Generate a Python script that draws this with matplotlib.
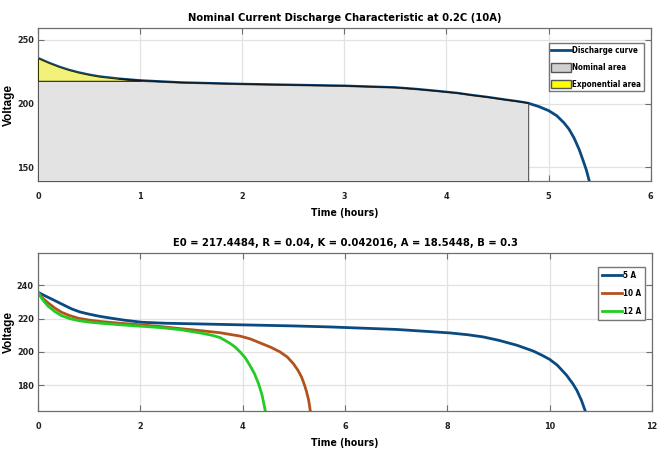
import numpy as np
import matplotlib
matplotlib.use("Agg")
import matplotlib.pyplot as plt
from matplotlib.patches import Patch
from matplotlib.lines import Line2D

# nominal discharge at 10 A
t_top = [0, 0.1, 0.2, 0.3, 0.4, 0.5, 0.6, 0.8, 1.0, 1.4, 2.0, 2.5, 3.0, 3.5,
         3.7, 3.9, 4.1, 4.25, 4.4, 4.58, 4.7, 4.8, 4.9, 5.0, 5.08, 5.15, 5.2,
         5.25, 5.3, 5.34, 5.37, 5.4]
v_top = [235.5, 232.0, 228.9, 226.3, 224.2, 222.5, 221.1, 219.3, 218.0, 216.4,
         215.2, 214.5, 213.8, 212.5, 211.3, 209.8, 208.2, 206.5, 205.0, 202.9,
         201.6, 200.3, 197.8, 194.5, 190.5, 185.0, 180.0, 173.0, 164.0, 155.0,
         148.0, 139.0]
t_nom = 4.8        # end of nominal area
t_exp = 1.0        # end of exponential area
v_exp = 217.8

# discharge at three currents
t_5a = [0, 0.15, 0.33, 0.5, 0.66, 0.82, 0.98, 1.2, 1.44, 1.7, 2.03, 2.5, 3.0,
        3.75, 5.0, 5.7, 7.0, 8.05, 8.4, 8.7, 9.0, 9.36, 9.68, 9.85, 10.0,
        10.15, 10.33, 10.45, 10.53, 10.62, 10.69, 10.72]
v_5a = [235.8, 233.5, 230.8, 228.2, 225.8, 224.0, 222.8, 221.4, 220.2, 219.0,
        217.8, 217.2, 216.9, 216.4, 215.6, 215.0, 213.5, 211.4, 210.3, 209.0,
        207.0, 204.0, 200.5, 198.0, 195.5, 192.0, 186.0, 181.0, 177.0, 171.0,
        165.0, 162.0]
t_10a = [0, 0.1, 0.2, 0.33, 0.46, 0.62, 0.79, 1.0, 1.24, 1.6, 2.03, 2.4, 2.77,
         3.17, 3.56, 3.95, 4.15, 4.34, 4.55, 4.73, 4.87, 4.99, 5.08, 5.15,
         5.21, 5.25, 5.29, 5.32, 5.35]
v_10a = [235.8, 232.0, 229.4, 226.3, 223.8, 221.8, 220.2, 219.1, 218.2, 217.2,
         216.2, 215.2, 214.0, 212.8, 211.5, 209.5, 207.8, 205.4, 202.8, 200.0,
         197.0, 193.0, 189.0, 185.0, 180.0, 176.0, 171.0, 165.0, 160.0]
t_12a = [0, 0.1, 0.2, 0.33, 0.46, 0.62, 0.79, 1.0, 1.24, 1.6, 2.03, 2.4, 2.77,
         3.17, 3.4, 3.56, 3.75, 3.85, 3.95, 4.05, 4.14, 4.23, 4.31, 4.38, 4.44,
         4.47]
v_12a = [235.8, 231.0, 227.4, 224.2, 221.8, 220.0, 218.8, 217.9, 217.2, 216.3,
         215.4, 214.6, 213.4, 211.4, 210.0, 208.6, 205.2, 203.0, 200.0, 196.5,
         192.0, 187.0, 181.0, 174.0, 165.0, 160.0]

plt.rcParams['font.family'] = ['DejaVu Sans']
plt.rcParams['font.stretch'] = 'condensed'
plt.rcParams['font.weight'] = 'bold'
plt.rcParams['axes.titleweight'] = 'bold'
plt.rcParams['axes.labelweight'] = 'bold'

BLUE = '#0b4a80'
BROWN = '#b4521e'
GREEN = '#22cc22'


def style(ax):
    ax.grid(True, color='#e2e2e2', linewidth=0.9)
    ax.set_axisbelow(True)
    for s in ax.spines.values():
        s.set_color('#6e6e6e')
        s.set_linewidth(0.9)
    ax.tick_params(direction='in', length=4, color='#6e6e6e', labelsize=6.5,
                   top=True, right=True, labelcolor='#222222')
    ax.tick_params(axis='x', pad=8)
    ax.tick_params(axis='y', pad=3)
    ax.set_ylabel('Voltage', family=['Liberation Sans', 'DejaVu Sans'],
                  fontstretch='normal', fontsize=8.5, fontweight='bold')
    ax.yaxis.set_label_coords(-0.037, 0.5)
    ax.set_xlabel('Time (hours)', fontsize=7.5, labelpad=5)


fig = plt.figure(figsize=(6.66, 4.55), dpi=100)
ax1 = fig.add_axes([0.057, 0.602, 0.920, 0.336])
ax2 = fig.add_axes([0.057, 0.097, 0.922, 0.347])

# top panel
t = np.array(t_top)
v = np.array(v_top)
ylo1 = 139.3
ax1.plot(t, v, color=BLUE, linewidth=2.0, zorder=2)
m = t <= t_nom
ax1.fill_between(t[m], ylo1, np.minimum(v[m], v_exp), facecolor='#e3e3e3',
                 edgecolor='#555555', linewidth=0.8, zorder=3)
me = t <= t_exp
ax1.fill_between(t[me], v_exp, v[me], facecolor='#f2f27a',
                 edgecolor='#333300', linewidth=0.8, zorder=3)
mk = m & (t >= 0.7)
ax1.plot(t[mk], v[mk], color='#101820', linewidth=1.0, zorder=4)
ax1.set_xlim(0, 6)
ax1.set_ylim(ylo1, 259)
ax1.set_xticks(range(0, 7))
ax1.set_yticks([150, 200, 250])
style(ax1)
ax1.set_title('Nominal Current Discharge Characteristic at 0.2C (10A)',
              fontsize=8, pad=5)
handles = [Line2D([0], [0], color=BLUE, linewidth=2),
           Patch(facecolor='#d0d0d0', edgecolor='#555555'),
           Patch(facecolor='#ffff00', edgecolor='#555555')]
ax1.legend(handles, ['Discharge curve', 'Nominal area', 'Exponential area'],
           loc='upper right', bbox_to_anchor=(1 - 7 / 613, 1 - 15 / 153),
           borderaxespad=0, fontsize=5.8, frameon=True, fancybox=False,
           edgecolor='#555555', borderpad=0.35, labelspacing=0.95,
           handlelength=2.4, handleheight=1.3, handletextpad=0.15)

# bottom panel
ax2.plot(t_5a, v_5a, color=BLUE, linewidth=2.0, label='5 A')
ax2.plot(t_10a, v_10a, color=BROWN, linewidth=2.0, label='10 A')
ax2.plot(t_12a, v_12a, color=GREEN, linewidth=2.0, label='12 A')
ax2.set_xlim(0, 12)
ax2.set_ylim(164.6, 259.4)
ax2.set_xticks(range(0, 13, 2))
ax2.set_yticks([180, 200, 220, 240])
style(ax2)
ax2.set_title('E0 = 217.4484, R = 0.04, K = 0.042016, A = 18.5448, B = 0.3',
              fontsize=8, pad=5)
ax2.legend(loc='upper right', bbox_to_anchor=(1 - 7 / 614, 1 - 14 / 158),
           borderaxespad=0, fontsize=5.8, frameon=True, fancybox=False,
           edgecolor='#555555', borderpad=0.5, labelspacing=1.1,
           handlelength=2.4, handletextpad=0.15)

fig.savefig('out.png', dpi=100)
